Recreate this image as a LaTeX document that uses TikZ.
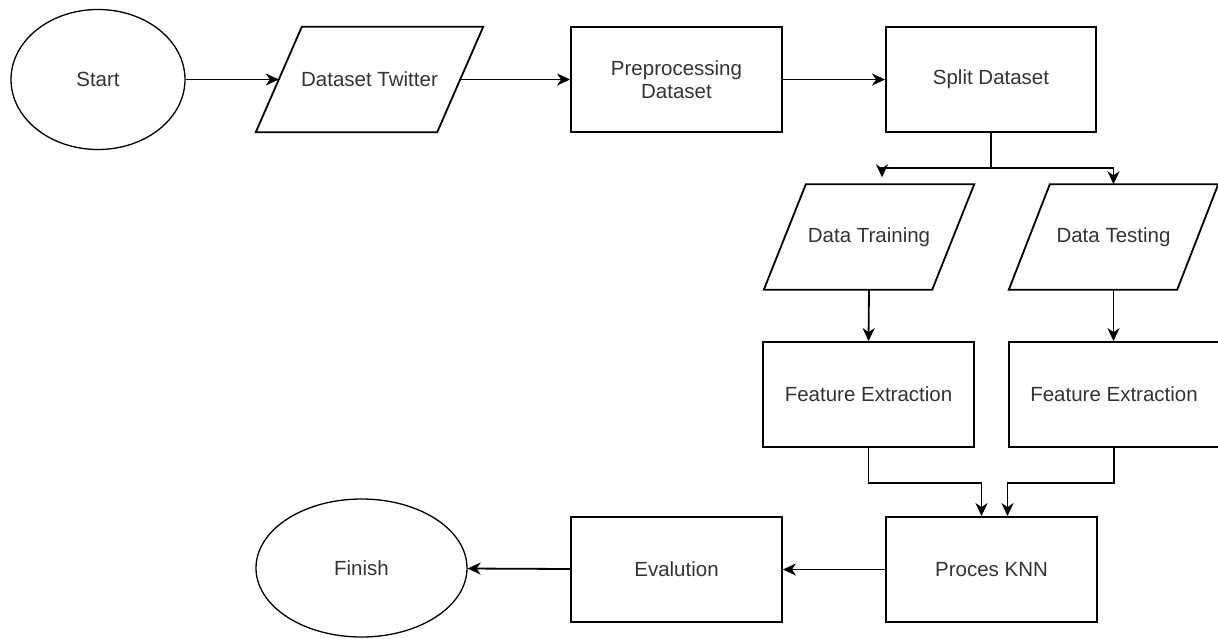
\documentclass[tikz,border=0pt]{standalone}
\usepackage{fontspec}
\setmainfont{Liberation Sans}
\usetikzlibrary{calc,arrows.meta}
\usetikzlibrary{shapes.geometric}
\usetikzlibrary{positioning}

\tikzset{
  every node/.style={font=\fontsize{20.5}{23.5}\selectfont, text=black!80, align=center},
  process/.style={draw, line width=1.8pt, minimum width=211pt, minimum height=105pt, inner sep=0pt},
  data/.style={minimum width=168pt, minimum height=105pt, inner sep=0pt},
  terminal/.style={draw, line width=1.3pt, ellipse, inner sep=0pt},
  flow/.style={line width=1.8pt, -{Stealth[length=13pt,width=12pt,inset=4pt]}}
}
% slanted outline round a data node: name, half of the slant
\newcommand{\iobox}[2]{\draw[line width=1.8pt] ([xshift=-#2]#1.south west) -- ([xshift=#2]#1.north west)
  -- ([xshift=#2]#1.north east) -- ([xshift=-#2]#1.south east) -- cycle;}

\begin{document}
\begin{tikzpicture}[x=1pt,y=-1pt]
\useasboundingbox (0,0) rectangle (1218,638);

% top row
\node[terminal, minimum width=174pt, minimum height=140pt] (start) at (98,79.5) {Start};
\node[data, minimum width=181pt] (twitter) at (369.5,79.5) {Dataset Twitter};
\node[process] (prep) at (676.5,79.5) {Preprocessing\\Dataset};
\node[process, minimum width=210pt] (split) at (991,79.5) {Split Dataset};

% two branches
\node[data] (train) at (869,237) {Data Training};
\node[data] (test) at (1113.5,237) {Data Testing};
\node[process] (fe1) at (868.5,394.5) {Feature Extraction};
\node[process, minimum width=210pt] (fe2) at (1114,394.5) {Feature Extraction};
\iobox{twitter}{23pt}
\iobox{train}{21pt}
\iobox{test}{20.5pt}

% bottom row
\node[process] (knn) at (991.5,569.5) {Proces KNN};
\node[process] (eval) at (676.5,569.5) {Evalution};
\node[terminal, minimum width=211pt, minimum height=138pt] (finish) at (361.5,568) {Finish};

\draw[flow] (start) -- (twitter);
\draw[flow] (twitter) -- (prep);
\draw[flow] (prep) -- (split);

\draw[flow] (split.south) -- ++(0,35) -| ([xshift=13pt,yshift=7pt]train.north);
\draw[flow] (split.south) -- ++(0,35) -| (test.north);

\draw[flow] (train.south) -- (fe1.north);
\draw[flow] (test.south) -- (test.south |- fe2.north);

\draw[flow] (fe1.south) -- ++(0,35) -| ([xshift=-10pt]knn.north);
\draw[flow] (fe2.south) -- ++(0,35) -| ([xshift=16pt]knn.north);

\draw[flow] (knn) -- (eval);
\draw[flow] (eval) -- (finish);

\end{tikzpicture}
\end{document}
